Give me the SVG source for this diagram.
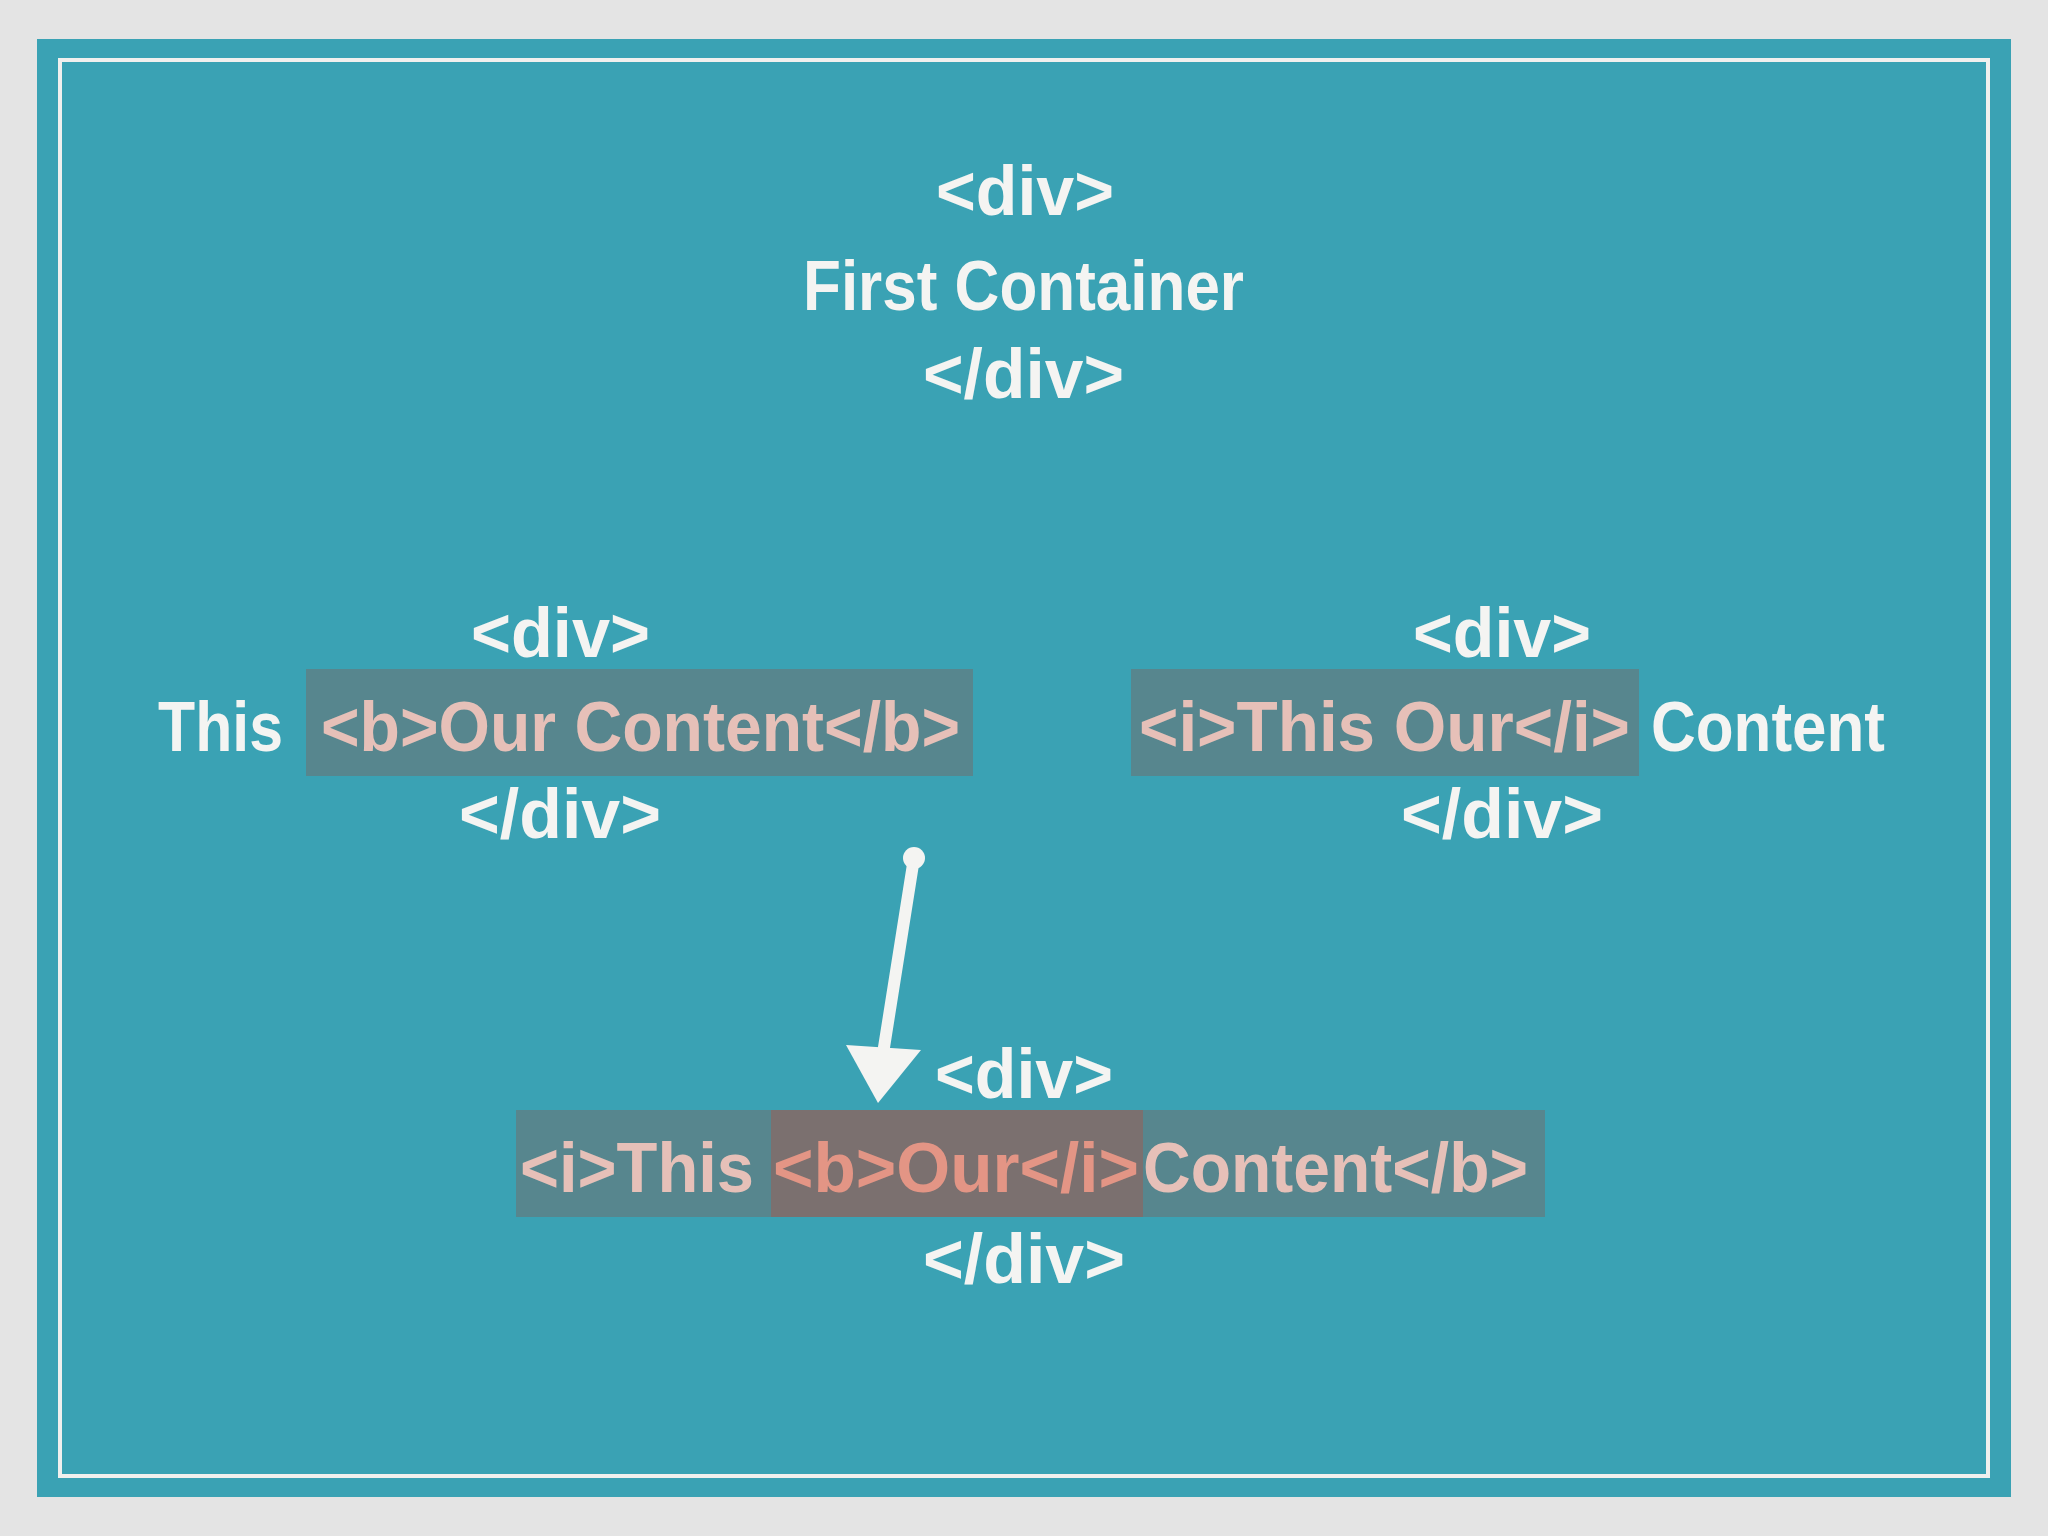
<svg xmlns="http://www.w3.org/2000/svg" width="2048" height="1536" viewBox="0 0 2048 1536">
<style>
text{font-family:"Liberation Sans",Arial,sans-serif;font-weight:bold;font-size:70px}
.w{fill:#f4f4f2}.p{fill:#e6c0b8}.r{fill:#e39585}
</style>
<rect width="2048" height="1536" fill="#e4e4e4"/>
<rect x="37" y="39" width="1974" height="1458" fill="#3aa2b4"/>
<rect x="60" y="60" width="1928" height="1416" fill="none" stroke="#f0f0ee" stroke-width="4"/>
<g id="top">
<text class="w" x="936" y="215" textLength="178" lengthAdjust="spacingAndGlyphs">&lt;div&gt;</text>
<text class="w" x="803" y="310" textLength="441" lengthAdjust="spacingAndGlyphs">First Container</text>
<text class="w" x="923" y="398" textLength="201" lengthAdjust="spacingAndGlyphs">&lt;/div&gt;</text>
</g>
<g id="left">
<text class="w" x="471" y="657" textLength="179" lengthAdjust="spacingAndGlyphs">&lt;div&gt;</text>
<text class="w" x="158" y="751" textLength="125" lengthAdjust="spacingAndGlyphs">This</text>
<rect x="306" y="669" width="667" height="107" fill="#707070" opacity="0.55"/>
<text class="p" x="321" y="751" textLength="639" lengthAdjust="spacingAndGlyphs">&lt;b&gt;Our Content&lt;/b&gt;</text>
<text class="w" x="459" y="838" textLength="202" lengthAdjust="spacingAndGlyphs">&lt;/div&gt;</text>
</g>
<g id="right">
<text class="w" x="1413" y="657" textLength="178" lengthAdjust="spacingAndGlyphs">&lt;div&gt;</text>
<rect x="1131" y="669" width="508" height="107" fill="#707070" opacity="0.55"/>
<text class="p" x="1139" y="751" textLength="491" lengthAdjust="spacingAndGlyphs">&lt;i&gt;This Our&lt;/i&gt;</text>
<text class="w" x="1651" y="751" textLength="234" lengthAdjust="spacingAndGlyphs">Content</text>
<text class="w" x="1401" y="838" textLength="202" lengthAdjust="spacingAndGlyphs">&lt;/div&gt;</text>
</g>
<g id="bottom">
<text class="w" x="935" y="1098" textLength="178" lengthAdjust="spacingAndGlyphs">&lt;div&gt;</text>
<rect x="516" y="1110" width="1029" height="107" fill="#707070" opacity="0.55"/>
<rect x="771" y="1110" width="372" height="107" fill="#a05a50" opacity="0.5"/>
<text class="p" x="520" y="1192" textLength="234" lengthAdjust="spacingAndGlyphs">&lt;i&gt;This</text>
<text class="r" x="773" y="1192" textLength="366" lengthAdjust="spacingAndGlyphs">&lt;b&gt;Our&lt;/i&gt;</text>
<text class="p" x="1143" y="1192" textLength="385" lengthAdjust="spacingAndGlyphs">Content&lt;/b&gt;</text>
<text class="w" x="923" y="1283" textLength="202" lengthAdjust="spacingAndGlyphs">&lt;/div&gt;</text>
</g>
<g id="connectors">
<path d="M914 858 L882 1060" stroke="#f4f4f2" stroke-width="12" stroke-linecap="round" fill="none"/>
<circle cx="914" cy="858" r="11" fill="#f4f4f2"/>
<polygon points="846,1045 921,1050 878,1103" fill="#f4f4f2"/>
</g>
</svg>
